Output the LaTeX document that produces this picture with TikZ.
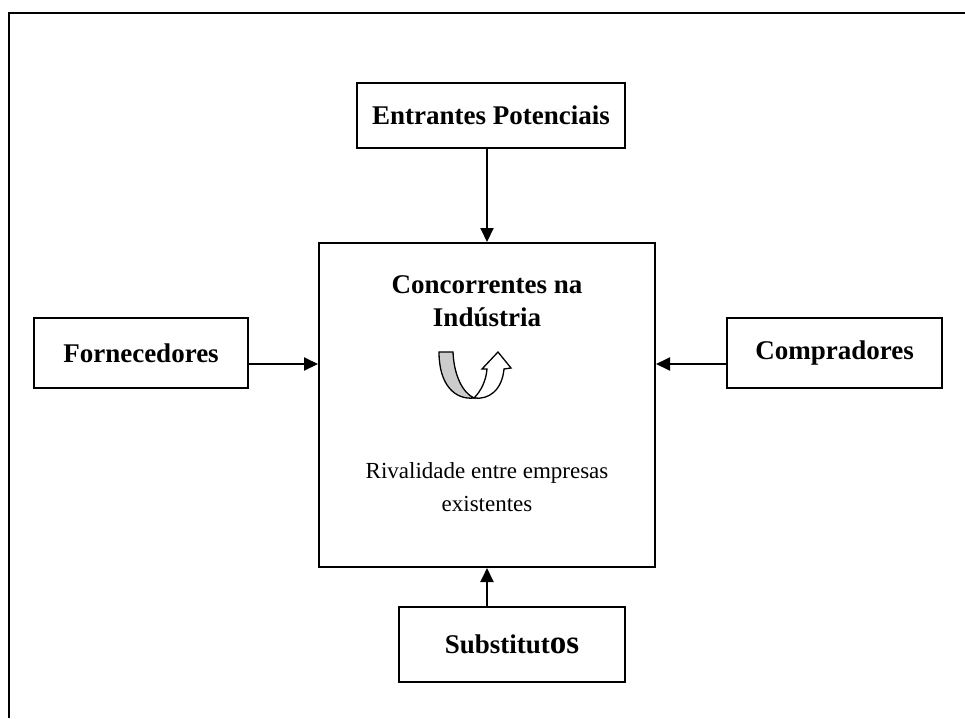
\documentclass[tikz,border=0pt]{standalone}
\usepackage{fontspec}
\setmainfont{Liberation Serif}
\usetikzlibrary{arrows.meta}
\begin{document}
\begin{tikzpicture}[x=1pt,y=-1pt,
  forcebox/.style={draw,line width=2pt,inner sep=0pt,align=center,
    font=\fontsize{27}{33}\selectfont\bfseries},
  push/.style={line width=2pt,-{Triangle[length=14pt,width=13pt]}},
  bodytext/.style={align=center,font=\fontsize{23}{33}\selectfont}]
  \useasboundingbox (0,0) rectangle (965,718);
  % outer frame: top and left edges
  \draw[line width=2.5pt] (9,718) -- (9,13) -- (965,13);

  % the five forces
  \node[forcebox,minimum width=268pt,minimum height=65pt] (ent) at (491,115.5) {Entrantes Potenciais};
  \node[draw,line width=2pt,minimum width=336pt,minimum height=324pt] (mid) at (487,405) {};
  \node[forcebox,minimum width=214pt,minimum height=70pt] (forn) at (141,353) {Fornecedores};
  \node[forcebox,minimum width=215pt,minimum height=70pt] (comp) at (834.5,353) {Compradores};
  \node[forcebox,minimum width=226pt,minimum height=75pt] (subs) at (512,644.5)
    {Substitut{\fontsize{33}{33}\selectfont os}};

  % texts inside the central box
  \node[bodytext,font=\fontsize{27}{33}\selectfont\bfseries] (conc) at (487,301) {Concorrentes na\\Indústria};
  \node[bodytext] (riv) at (487,487) {Rivalidade entre empresas\\existentes};

  % rivalry icon: grey band turning into an upward arrow
  \fill[gray!40,draw=black,line width=1.3pt]
    (439,352) -- (453,352) .. controls (454,376) and (463,393) .. (474,398)
    .. controls (455,400) and (439,385) .. cycle;
  \draw[fill=white,line width=1.3pt,line join=miter]
    (474,398) .. controls (481,391) and (486,381) .. (487,369)
    -- (482,369) -- (498,352) -- (511,368) -- (504,369)
    .. controls (502,390) and (489,400) .. (474,398) -- cycle;

  % connectors
  \coordinate (ly) at (0,364);
  \draw[push] (ent.south -| mid.north) -- (mid.north);
  \draw[push] (forn.east |- ly) -- (mid.west |- ly);
  \draw[push] (comp.west |- ly) -- (mid.east |- ly);
  \draw[push] (subs.north -| mid.south) -- (mid.south);
\end{tikzpicture}
\end{document}
